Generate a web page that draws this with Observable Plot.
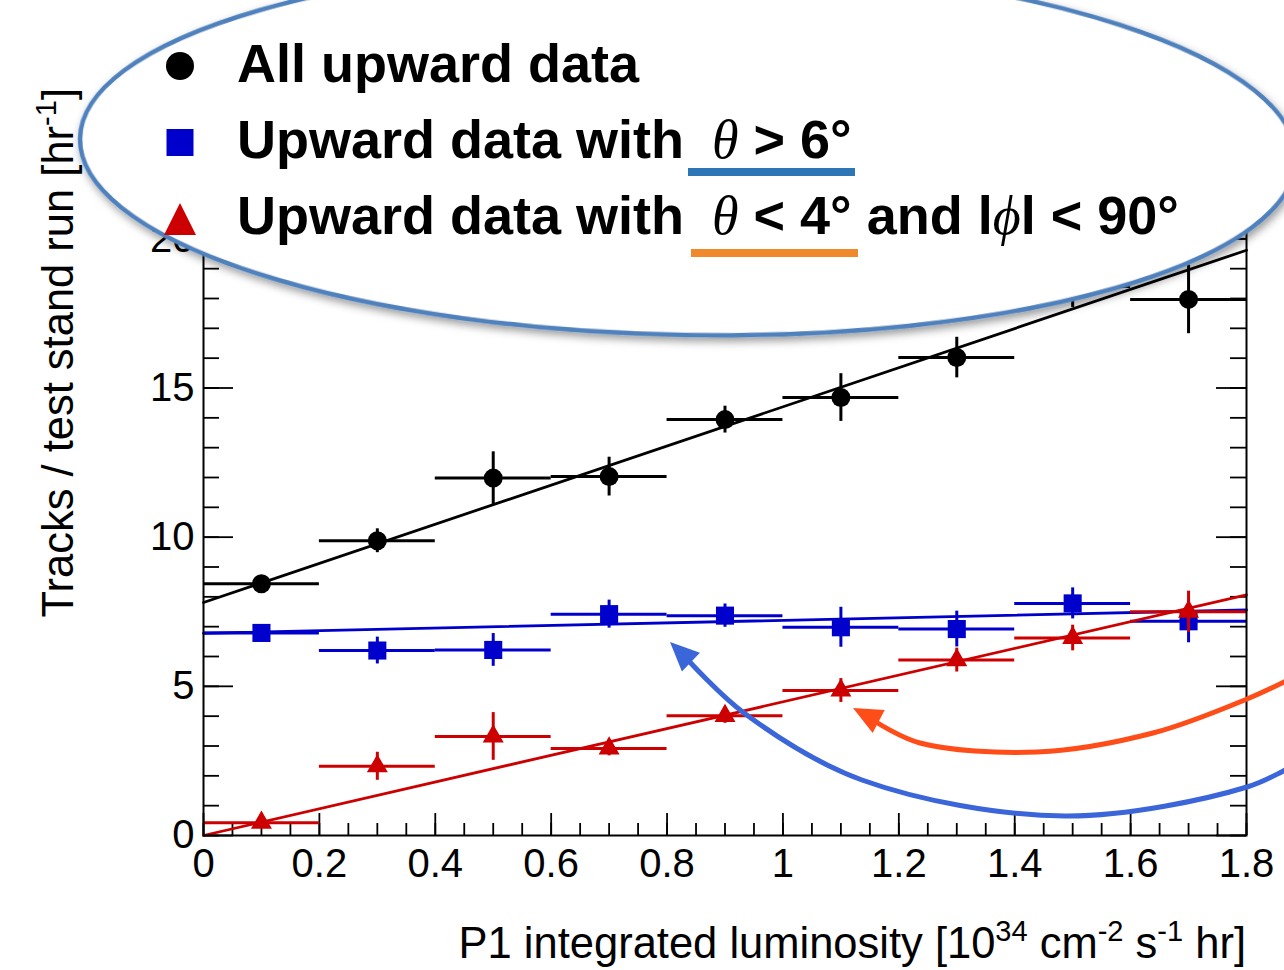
<!DOCTYPE html>
<html><head><meta charset="utf-8">
<script src="https://cdn.jsdelivr.net/npm/d3@7"></script>
<script src="https://cdn.jsdelivr.net/npm/@observablehq/plot@0.6"></script>
<style>body{margin:0;background:#fff} svg{display:block}</style>
</head><body><div id="chart"></div>
<script>
// ---------- data ----------
const xCenters = [0.1, 0.3, 0.5, 0.7, 0.9, 1.1, 1.3, 1.5, 1.7];
const binHalfWidth = 0.1;

const allY   = [8.44, 9.88, 11.98, 12.03, 13.94, 14.68, 16.02, 18.40, 17.97];
const allErr = [0.20, 0.40, 0.88, 0.65, 0.45, 0.80, 0.68, 0.70, 1.15];

const wideY   = [6.79, 6.20, 6.22, 7.42, 7.37, 6.98, 6.92, 7.78, 7.18];
const wideErr = [0.25, 0.45, 0.55, 0.47, 0.39, 0.67, 0.60, 0.52, 0.72];

const narrowY   = [0.43, 2.32, 3.32, 2.92, 4.01, 4.86, 5.88, 6.62, 7.50];
const narrowErr = [0.15, 0.47, 0.80, 0.25, 0.25, 0.40, 0.40, 0.43, 0.69];

// linear fits: y = intercept + slope * x
const fitIntercept = [7.81, 6.78, 0.00];
const fitSlope     = [6.56, 0.433, 4.48];
const fitRange     = [0, 1.8];

const xMajor = [0, 0.2, 0.4, 0.6, 0.8, 1.0, 1.2, 1.4, 1.6, 1.8];
const yMajor = [0, 5, 10, 15, 20];
const xMinor = d3.range(0, 1.8001, 0.05);
const yMinor = d3.range(0, 24.001, 1);

const legendLabels = ["All upward data", "Upward data with", "Upward data with"];

// ---------- layout ----------
const W = 1284, H = 970, ML = 203, MR = 38, MT = 119, MB = 135;
const innerW = W - ML - MR, innerH = H - MT - MB;
const FONT = "'Liberation Sans', Arial, Helvetica, sans-serif";
const SERIF = "'Liberation Serif', 'Times New Roman', serif";

const series = [
  {y: allY,    err: allErr,    color: "#000000", symbol: "circle",   r: 9.5,  k: 0},
  {y: wideY,   err: wideErr,   color: "#0000cc", symbol: "square",   r: 10.2, k: 1},
  {y: narrowY, err: narrowErr, color: "#cc0000", symbol: "triangle", r: 7.8,  k: 2}
];

function seriesMarks(s) {
  const data = xCenters.map((x, i) => ({x, y: s.y[i], err: s.err[i]}));
  const fit = fitRange.map(x => ({x, y: fitIntercept[s.k] + fitSlope[s.k] * x}));
  return [
    Plot.ruleY(data, {y: "y", x1: d => d.x - binHalfWidth, x2: d => d.x + binHalfWidth, stroke: s.color, strokeWidth: 3}),
    Plot.ruleX(data, {x: "x", y1: d => d.y - d.err, y2: d => d.y + d.err, stroke: s.color, strokeWidth: 3}),
    Plot.line(fit, {x: "x", y: "y", stroke: s.color, strokeWidth: 2.8}),
    Plot.dot(data, {x: "x", y: "y", symbol: s.symbol, r: s.r, fill: s.color, stroke: "none"})
  ];
}

const fmt = d => String(Math.round(d * 10) / 10);

const plot = Plot.plot({
  width: W, height: H,
  marginLeft: ML, marginRight: MR, marginTop: MT, marginBottom: MB,
  x: {domain: [0, 1.8]},
  y: {domain: [0, 24]},
  style: {fontFamily: FONT, fontSize: "40px", color: "black", background: "white", overflow: "visible"},
  marks: [
    // inward ticks (ROOT style)
    Plot.ruleX(xMinor, {x: d => d, insetTop: innerH - 12, stroke: "black", strokeWidth: 1.8}),
    Plot.ruleX(xMajor, {x: d => d, insetTop: innerH - 22, stroke: "black", strokeWidth: 1.8}),
    Plot.ruleX(xMinor, {x: d => d, insetBottom: innerH - 12, stroke: "black", strokeWidth: 1.8}),
    Plot.ruleY(yMinor, {y: d => d, insetRight: innerW - 16, stroke: "black", strokeWidth: 1.8}),
    Plot.ruleY(yMajor, {y: d => d, insetRight: innerW - 30, stroke: "black", strokeWidth: 1.8}),
    Plot.ruleY(yMinor, {y: d => d, insetLeft: innerW - 16, stroke: "black", strokeWidth: 1.8}),
    Plot.ruleY(yMajor, {y: d => d, insetLeft: innerW - 30, stroke: "black", strokeWidth: 1.8}),
    Plot.axisX({ticks: xMajor, tickSize: 0, tickPadding: 13, fontSize: 40, tickFormat: fmt, label: null, anchor: "bottom"}),
    Plot.axisY({ticks: yMajor, tickSize: 0, tickPadding: 9, fontSize: 40, tickFormat: fmt, label: null, anchor: "left"}),
    ...seriesMarks(series[0]),
    ...seriesMarks(series[1]),
    ...seriesMarks(series[2]),
    Plot.frame({stroke: "black", strokeWidth: 2})
  ]
});

document.getElementById("chart").appendChild(plot);

// ---------- annotations ----------
const svg = d3.select(plot);

// axis titles
const xt = svg.append("text").attr("x", ML + innerW).attr("y", 958).attr("text-anchor", "end")
  .attr("font-family", FONT).attr("font-size", 43.5).attr("fill", "black");
xt.append("tspan").text("P1 integrated luminosity [10");
xt.append("tspan").attr("dy", -17).attr("font-size", 29).text("34");
xt.append("tspan").attr("dy", 17).text(" cm");
xt.append("tspan").attr("dy", -17).attr("font-size", 29).text("-2");
xt.append("tspan").attr("dy", 17).text(" s");
xt.append("tspan").attr("dy", -17).attr("font-size", 29).text("-1");
xt.append("tspan").attr("dy", 17).text(" hr]");

const yt = svg.append("text").attr("transform", "translate(73,88) rotate(-90)").attr("text-anchor", "end")
  .attr("font-family", FONT).attr("font-size", 43.5).attr("fill", "black");
yt.append("tspan").text("Tracks / test stand run [hr");
yt.append("tspan").attr("dy", -17).attr("font-size", 29).text("-1");
yt.append("tspan").attr("dy", 17).text("]");

// legend ellipse
const defs = svg.append("defs");
defs.append("filter").attr("id", "shadow").attr("x", "-10%").attr("y", "-20%").attr("width", "120%").attr("height", "150%")
  .append("feDropShadow").attr("dx", 2).attr("dy", 4).attr("stdDeviation", 4)
  .attr("flood-color", "#000").attr("flood-opacity", 0.4);

svg.append("ellipse").attr("cx", 688).attr("cy", 149).attr("rx", 608).attr("ry", 186)
  .attr("transform", "rotate(1.0 688 149)")
  .attr("fill", "white").attr("stroke", "#4f81bd").attr("stroke-width", 4.5)
  .attr("filter", "url(#shadow)");

// legend markers
svg.append("circle").attr("cx", 180).attr("cy", 66).attr("r", 14).attr("fill", "#000");
svg.append("rect").attr("x", 166.5).attr("y", 129).attr("width", 27).attr("height", 27).attr("fill", "#0000cc");
svg.append("polygon").attr("points", "180,203 196,235 164,235").attr("fill", "#cc0000");

// legend text
const legendBaselines = [82, 158, 234];
function legendText(i) {
  return svg.append("text").attr("x", 237).attr("y", legendBaselines[i]).attr("text-anchor", "start")
    .attr("font-family", FONT).attr("font-size", 54).attr("font-weight", "bold").attr("fill", "black");
}
legendText(0).text(legendLabels[0]);
const l2 = legendText(1);
l2.append("tspan").text(legendLabels[1]);
l2.append("tspan").attr("x", 712).attr("font-family", SERIF).attr("font-style", "italic").attr("font-weight", "normal").text("θ");
l2.append("tspan").text(" > 6°");
const l3 = legendText(2);
l3.append("tspan").text(legendLabels[2]);
l3.append("tspan").attr("x", 712).attr("font-family", SERIF).attr("font-style", "italic").attr("font-weight", "normal").text("θ");
l3.append("tspan").text(" < 4° and l");
l3.append("tspan").attr("font-family", SERIF).attr("font-style", "italic").attr("font-weight", "normal").text("ϕ");
l3.append("tspan").text("l < 90°");

// underlines
svg.append("rect").attr("x", 688).attr("y", 168).attr("width", 167).attr("height", 8).attr("fill", "#2e75b6");
svg.append("rect").attr("x", 691).attr("y", 249).attr("width", 167).attr("height", 8).attr("fill", "#f0892b");

// curved arrows
function arrow(points, tip, color) {
  const line = d3.line().curve(d3.curveCatmullRom.alpha(0.5));
  svg.append("path").attr("d", line(points)).attr("fill", "none").attr("stroke", color)
    .attr("stroke-width", 5).attr("stroke-linecap", "round");
  const last = points[points.length - 2];
  const dx = tip[0] - last[0], dy = tip[1] - last[1];
  const len = Math.hypot(dx, dy), ux = dx / len, uy = dy / len;
  const L = 29, Hw = 13;
  const bx = tip[0] - ux * L, by = tip[1] - uy * L;
  svg.append("polygon")
    .attr("points", `${tip[0]},${tip[1]} ${bx - uy * Hw},${by + ux * Hw} ${bx + uy * Hw},${by - ux * Hw}`)
    .attr("fill", color);
}
arrow([[1292, 766], [1247, 787], [1065, 816], [862, 780], [744, 713], [688, 660]], [670, 642], "#3b66d9");
arrow([[1292, 678], [1247, 699], [1153, 733], [1037, 752], [920, 743], [876, 722]], [853, 708], "#ff4d1a");
</script>
</body></html>
